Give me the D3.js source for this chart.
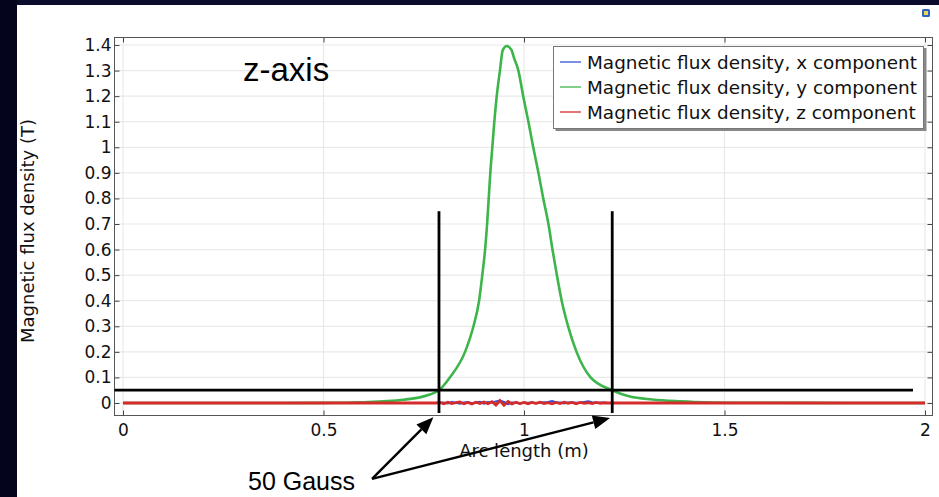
<!DOCTYPE html>
<html><head><meta charset="utf-8">
<script src="https://cdn.jsdelivr.net/npm/d3@7"></script>
<style>html,body{margin:0;padding:0;background:#fff;}svg{display:block;}</style>
</head><body>
<svg id="c" width="939" height="497"></svg>
<script>
// ---------- data ----------
const xTicks = [0, 0.5, 1, 1.5, 2];
const xTickLabels = ["0", "0.5", "1", "1.5", "2"];
const yTicks = [0, 0.1, 0.2, 0.3, 0.4, 0.5, 0.6, 0.7, 0.8, 0.9, 1, 1.1, 1.2, 1.3, 1.4];
const yTickLabels = ["0", "0.1", "0.2", "0.3", "0.4", "0.5", "0.6", "0.7", "0.8", "0.9", "1", "1.1", "1.2", "1.3", "1.4"];

const seriesNames = ["Magnetic flux density, x component", "Magnetic flux density, y component", "Magnetic flux density, z component"];

// y component (main peak)
const arcY = [0, 0.3, 0.5, 0.55, 0.6, 0.65, 0.7, 0.74, 0.765, 0.788, 0.815, 0.853, 0.874, 0.888, 0.896, 0.903, 0.908, 0.912, 0.916, 0.921, 0.926, 0.932, 0.940, 0.947, 0.957, 0.969, 0.975, 0.986, 0.998, 1.011, 1.023, 1.036, 1.048, 1.061, 1.071, 1.082, 1.094, 1.110, 1.131, 1.166, 1.220, 1.264, 1.32, 1.39, 1.45, 1.55, 1.7, 2.0];
const byVals = [0, 0, 0.0005, 0.001, 0.003, 0.007, 0.013, 0.022, 0.033, 0.05, 0.1, 0.2, 0.3, 0.4, 0.5, 0.6, 0.7, 0.8, 0.9, 1.0, 1.1, 1.2, 1.3, 1.38, 1.396, 1.38, 1.35, 1.3, 1.2, 1.1, 1.0, 0.9, 0.8, 0.7, 0.6, 0.5, 0.4, 0.3, 0.2, 0.1, 0.05, 0.025, 0.014, 0.007, 0.003, 0.001, 0.0003, 0];

// x and z components (near zero, noisy in the middle)
const arcN = [0, 0.78, 0.79, 0.80, 0.81, 0.82, 0.83, 0.84, 0.85, 0.86, 0.87, 0.88, 0.89, 0.90, 0.91, 0.92, 0.93, 0.94, 0.95, 0.96, 0.97, 0.98, 0.99, 1.00, 1.01, 1.02, 1.03, 1.04, 1.05, 1.06, 1.07, 1.08, 1.09, 1.10, 1.11, 1.12, 1.13, 1.14, 1.15, 1.16, 1.17, 1.18, 1.19, 1.20, 1.21, 1.22, 2.0];
const bxVals = [0, 0, 0.001, 0.002, -0.001, 0.003, 0.001, -0.002, 0.002, 0.003, -0.001, 0.002, 0.004, -0.002, 0.003, 0.002, 0.006, 0.009, 0.004, -0.004, 0.002, 0.001, -0.002, 0.002, 0.001, 0.002, -0.001, 0.002, 0.003, 0.004, 0.007, 0.003, 0.002, -0.001, 0.002, 0.003, 0.001, 0.002, 0.004, 0.006, 0.003, 0.001, 0.002, 0.001, 0, 0, 0];
const bzVals = [0, 0, 0.002, -0.003, 0.003, -0.002, 0.001, 0.004, -0.003, 0.002, -0.004, 0.003, -0.002, 0.004, -0.003, 0.005, -0.008, 0.009, -0.009, 0.006, -0.004, 0.003, -0.002, 0.002, -0.003, 0.002, -0.001, 0.003, -0.002, 0.001, -0.003, 0.002, -0.002, 0.003, -0.001, 0.002, -0.003, 0.002, -0.001, 0.001, -0.002, 0.002, -0.001, 0.001, 0, 0, 0];

// annotations (data units)
const gaussLevel = 0.05;
const gaussLineEnd = 1.970;
const markerArcs = [0.788, 1.220];
const markerTop = 0.75, markerBottom = -0.039;
const arrowTail = [0.621, -0.297];
const arrowTips = [[0.774, -0.056], [1.2145, -0.059]];

// ---------- drawing ----------
const svg = d3.select("#c");
const W = 939, H = 497;
const L = 114.5, R = 932.5, T = 37.5, B = 415.5;
const x = d3.scaleLinear().domain([0, 2]).range([123, 925]);
const y = d3.scaleLinear().domain([0, 1.4]).range([403, 45]);
const FONT = "DejaVu Sans, sans-serif";

svg.append("rect").attr("width", W).attr("height", H).attr("fill", "#fff");

// grid
svg.append("g").selectAll("line").data(yTicks).join("line")
  .attr("x1", L).attr("x2", R).attr("y1", d => y(d)).attr("y2", d => y(d))
  .attr("stroke", "#e9e9e9").attr("stroke-width", 1.2);
svg.append("g").selectAll("line").data(xTicks).join("line")
  .attr("y1", T).attr("y2", B).attr("x1", d => x(d)).attr("x2", d => x(d))
  .attr("stroke", "#e9e9e9").attr("stroke-width", 1.2);

// axes
const axL = svg.append("g").attr("transform", `translate(${L},0)`)
  .call(d3.axisLeft(y).tickValues(yTicks).tickFormat((d, i) => yTickLabels[i]).tickSizeInner(-5).tickSizeOuter(0).tickPadding(3));
const axB = svg.append("g").attr("transform", `translate(0,${B})`)
  .call(d3.axisBottom(x).tickValues(xTicks).tickFormat((d, i) => xTickLabels[i]).tickSizeInner(-5).tickSizeOuter(0).tickPadding(8.5));
const axR = svg.append("g").attr("transform", `translate(${R},0)`)
  .call(d3.axisRight(y).tickValues(yTicks).tickFormat("").tickSizeInner(-5).tickSizeOuter(0));
const axT = svg.append("g").attr("transform", `translate(0,${T})`)
  .call(d3.axisTop(x).tickValues(xTicks).tickFormat("").tickSizeInner(-5).tickSizeOuter(0));
[axL, axB, axR, axT].forEach(a => {
  a.select(".domain").remove();
  a.selectAll("line").attr("stroke", "#444");
  a.selectAll("text").attr("font-family", FONT).attr("font-size", 17).attr("fill", "#111");
});

// frame
svg.append("rect").attr("x", L).attr("y", T).attr("width", R - L).attr("height", B - T)
  .attr("fill", "none").attr("stroke", "#555").attr("stroke-width", 1);

// axis labels
svg.append("text").attr("x", x(1)).attr("y", 457).attr("text-anchor", "middle")
  .attr("font-family", FONT).attr("font-size", 18).attr("fill", "#111").text("Arc length (m)");
svg.append("text").attr("transform", "translate(34,231) rotate(-90)").attr("text-anchor", "middle")
  .attr("font-family", FONT).attr("font-size", 18).attr("fill", "#111").text("Magnetic flux density (T)");

// series
svg.append("clipPath").attr("id", "pc").append("rect")
  .attr("x", L).attr("y", T).attr("width", R - L).attr("height", B - T);
const plot = svg.append("g").attr("clip-path", "url(#pc)");
const colors = ["#2f4fd8", "#3cb54a", "#d42b2b"];
const lineM = d3.line().x(d => x(d[0])).y(d => y(d[1])).curve(d3.curveMonotoneX);
const lineL = d3.line().x(d => x(d[0])).y(d => y(d[1]));
plot.append("path").datum(arcN.map((a, i) => [a, bxVals[i]])).attr("d", lineL)
  .attr("fill", "none").attr("stroke", colors[0]).attr("stroke-width", 2.2);
plot.append("path").datum(arcY.map((a, i) => [a, byVals[i]])).attr("d", lineM)
  .attr("fill", "none").attr("stroke", colors[1]).attr("stroke-width", 2.6);
plot.append("path").datum(arcN.map((a, i) => [a, bzVals[i]])).attr("d", lineL)
  .attr("fill", "none").attr("stroke", colors[2]).attr("stroke-width", 2.8);

// legend
const lg = svg.append("g");
lg.append("rect").attr("x", 555.5).attr("y", 48).attr("width", 371).attr("height", 83).attr("fill", "#888");
lg.append("rect").attr("x", 553.5).attr("y", 46.5).attr("width", 370).attr("height", 82).attr("fill", "#fff").attr("stroke", "#777").attr("stroke-width", 1);
seriesNames.forEach((s, i) => {
  const cy = 62 + i * 25;
  lg.append("line").attr("x1", 560).attr("x2", 581).attr("y1", cy).attr("y2", cy)
    .attr("stroke", colors[i]).attr("stroke-width", 1.5).attr("opacity", 0.85);
  lg.append("text").attr("x", 587).attr("y", cy + 6.5).attr("font-family", FONT).attr("font-size", 18.4)
    .attr("fill", "#111").text(s);
});

// title text
svg.append("text").attr("x", 243).attr("y", 81).attr("font-family", "Liberation Sans, Arial, sans-serif")
  .attr("font-size", 33).attr("fill", "#000").text("z-axis");

// annotation lines
const ann = svg.append("g").attr("stroke", "#000").attr("stroke-width", 2.8).attr("fill", "none");
ann.append("line").attr("x1", L).attr("x2", x(gaussLineEnd)).attr("y1", y(gaussLevel)).attr("y2", y(gaussLevel));
markerArcs.forEach(m => ann.append("line").attr("x1", x(m)).attr("x2", x(m)).attr("y1", y(markerTop)).attr("y2", y(markerBottom)));

// arrows
const tx = x(arrowTail[0]), ty = y(arrowTail[1]);
arrowTips.forEach(t => {
  const px = x(t[0]), py = y(t[1]);
  const ang = Math.atan2(py - ty, px - tx);
  const hl = 17, hw = 7;
  const bx = px - hl * Math.cos(ang), by = py - hl * Math.sin(ang);
  svg.append("line").attr("x1", tx).attr("y1", ty).attr("x2", bx).attr("y2", by)
    .attr("stroke", "#000").attr("stroke-width", 2.4);
  const p1 = [bx + hw * Math.sin(ang), by - hw * Math.cos(ang)];
  const p2 = [bx - hw * Math.sin(ang), by + hw * Math.cos(ang)];
  svg.append("path").attr("d", `M${px},${py}L${p1[0]},${p1[1]}L${p2[0]},${p2[1]}Z`).attr("fill", "#000");
});
svg.append("text").attr("x", 248).attr("y", 490).attr("font-family", "Liberation Sans, Arial, sans-serif")
  .attr("font-size", 25).attr("fill", "#000").text("50 Gauss");

// dark screen borders & icon
svg.append("rect").attr("x", 0).attr("y", 0).attr("width", W).attr("height", 5).attr("fill", "#0b0b2c");
svg.append("rect").attr("x", 0).attr("y", 0).attr("width", 17).attr("height", H).attr("fill", "#04041c");
svg.append("rect").attr("x", 922).attr("y", 9).attr("width", 8).attr("height", 8).attr("rx", 1.5).attr("fill", "#2d63c8");
svg.append("rect").attr("x", 924).attr("y", 11).attr("width", 4).attr("height", 4).attr("fill", "#e8d84a");
</script>
</body></html>
